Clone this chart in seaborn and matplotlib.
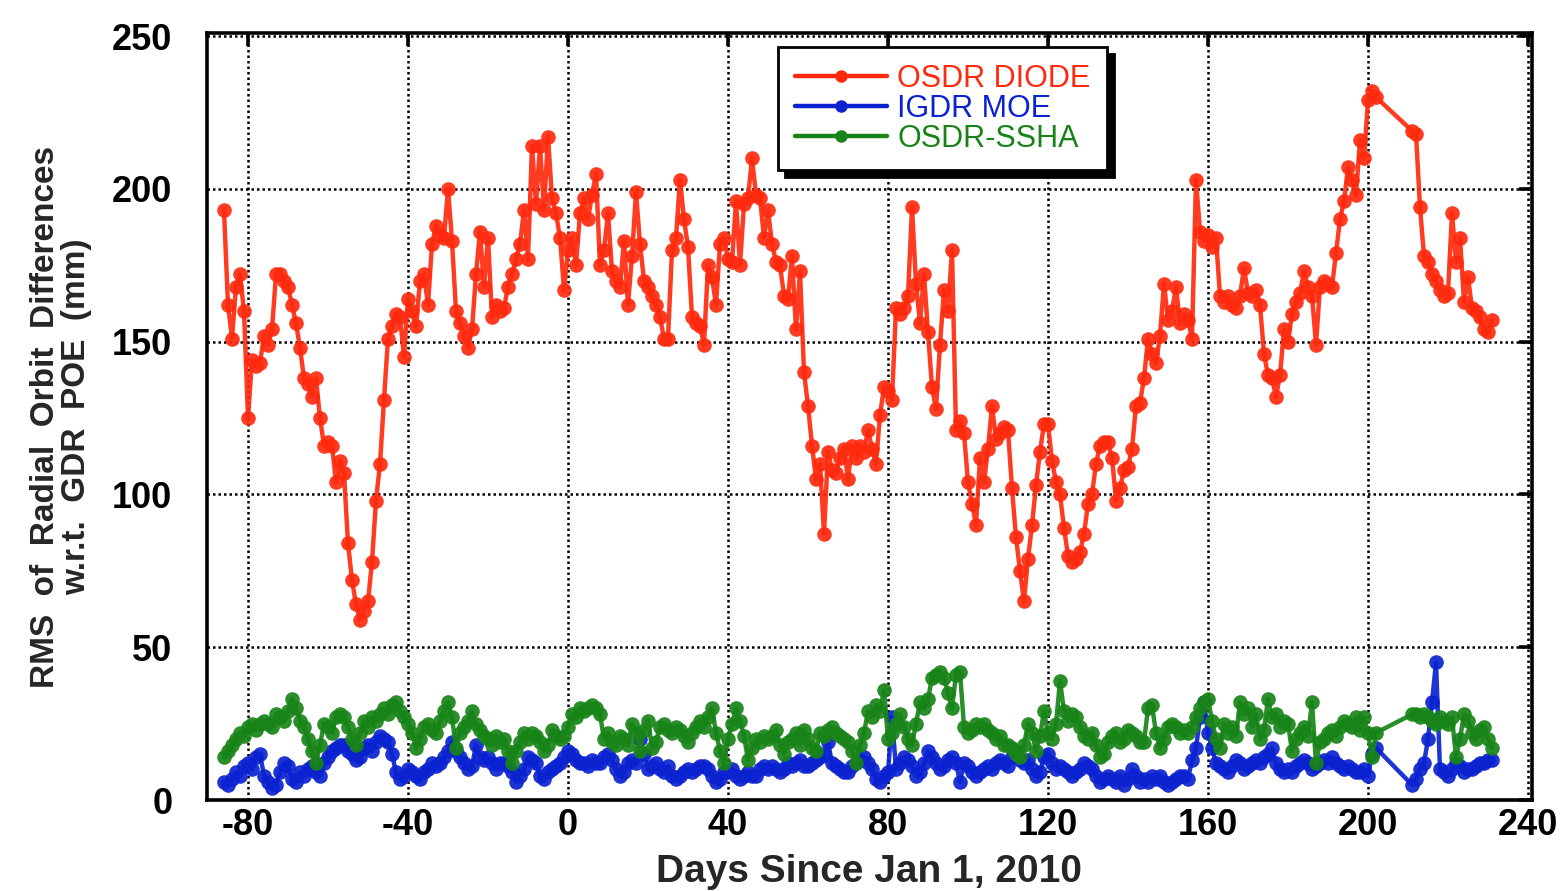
import numpy as np
import pandas as pd
import matplotlib
matplotlib.use("Agg")
import matplotlib.pyplot as plt
import seaborn as sns

# ---------------- data ----------------
days = list(range(-86, 203)) + list(range(211, 232))

osdr_diode = [
    193,162,151,168,172,160,125,144,142,143,
    152,149,154,172,172,170,168,162,156,148,
    138,136,132,138,125,116,117,116,104,111,
    107,84,72,64,59,62,65,78,98,110,
    131,151,155,159,158,145,164,160,155,170,
    172,162,182,188,185,184,200,183,160,156,
    152,148,154,172,186,168,184,158,162,160,
    161,168,172,177,182,193,177,214,195,214,
    193,217,197,192,184,167,180,184,175,192,
    197,190,198,205,175,180,192,173,170,168,
    183,162,178,199,182,170,168,165,162,158,
    151,151,180,184,203,190,181,158,156,155,
    149,175,171,162,182,184,177,176,196,175,
    195,197,210,198,197,184,193,182,176,175,
    165,164,178,154,173,140,129,116,105,110,
    87,114,108,107,112,115,105,116,112,116,
    114,121,115,110,126,135,134,131,161,159,
    161,165,194,169,156,172,153,135,128,149,
    167,160,180,121,124,120,104,97,90,112,
    104,115,129,118,120,122,121,102,86,75,
    65,79,90,103,114,123,123,111,104,100,
    89,80,78,79,81,87,97,100,110,116,
    117,117,112,98,102,108,109,115,129,130,
    138,151,146,143,152,169,157,160,168,156,
    159,157,151,203,186,183,185,181,184,165,
    163,165,162,161,165,174,166,165,167,162,
    146,139,138,132,139,154,150,159,163,166,
    173,168,165,149,168,170,169,168,179,190,
    196,207,203,198,216,210,229,232,230,
    219,218,194,178,176,172,170,167,165,166,192,176,184,163,171,161,160,158,154,153,157,
]

igdr_moe = [
    6,5,7,9,8,11,12,10,14,15,
    8,6,4,5,9,12,11,7,6,9,
    8,10,11,9,8,12,14,16,17,18,
    18,16,15,13,14,17,18,16,19,21,
    20,19,15,9,7,8,10,9,8,7,
    9,10,12,11,12,14,16,19,16,14,
    12,10,11,18,14,13,14,12,10,12,
    12,11,9,6,8,10,14,13,12,8,
    7,9,10,11,12,14,16,15,13,12,
    12,11,13,12,12,14,15,13,10,8,
    9,12,13,12,20,15,10,11,12,10,
    9,11,8,7,8,9,10,9,10,11,
    11,10,8,6,7,9,9,10,8,7,
    8,9,8,8,10,11,10,11,10,9,
    10,12,11,12,13,11,11,12,13,14,
    15,19,12,11,10,9,9,11,12,13,
    14,12,10,7,6,8,9,27,10,12,
    14,13,11,8,9,12,16,14,12,10,
    11,13,14,12,6,12,11,9,8,9,
    10,11,10,12,13,12,11,14,16,13,
    12,13,10,8,9,14,15,12,10,11,
    10,9,8,9,10,12,11,10,8,6,
    7,8,7,6,8,5,7,10,8,6,
    7,6,8,7,8,6,5,6,7,8,
    8,7,13,17,27,32,22,17,12,11,
    10,9,11,13,12,10,11,12,13,12,
    14,15,17,12,10,9,10,9,11,12,
    13,12,10,11,12,13,12,14,12,11,
    10,11,10,9,9,10,8,15,17,
    5,7,10,12,20,32,45,10,9,8,10,12,11,9,10,10,11,12,12,13,13,
]

osdr_ssha = [
    14,16,18,20,22,21,24,25,23,25,
    26,25,24,28,27,26,29,33,30,26,
    24,20,16,12,18,25,24,22,27,28,
    27,24,20,18,22,26,24,27,26,28,
    30,28,31,32,29,27,25,22,17,20,
    24,25,23,22,26,29,32,27,17,22,
    24,26,29,25,23,21,20,18,21,19,
    20,16,12,16,19,22,20,22,21,19,
    16,18,23,21,20,21,24,28,27,30,
    29,30,31,30,28,20,22,19,18,21,
    20,18,25,22,16,23,26,17,19,24,
    25,23,22,24,23,21,19,22,24,26,
    24,27,30,22,16,12,20,25,30,26,
    21,13,17,20,19,21,20,21,23,18,
    15,19,20,22,18,23,20,17,16,22,
    21,23,24,22,21,20,19,16,12,18,
    22,29,27,31,29,36,20,22,25,28,
    24,20,18,25,32,30,33,40,41,42,
    40,35,30,41,42,24,22,23,25,24,
    25,23,22,20,21,18,18,17,15,14,
    18,25,22,16,21,29,22,20,25,39,
    29,26,28,27,24,21,20,22,18,14,
    15,19,21,22,19,20,23,22,21,19,
    19,30,31,22,17,20,24,25,24,22,
    23,22,24,27,30,32,33,26,20,17,
    25,22,24,21,32,28,30,24,28,20,
    23,33,27,28,24,26,25,16,20,22,
    24,21,32,12,19,20,22,23,21,24,
    26,25,24,27,23,27,22,14,22,
    28,28,27,28,27,26,25,27,26,25,27,14,20,28,26,22,20,23,24,20,17,
]

series_names = ["OSDR DIODE", "IGDR MOE", "OSDR-SSHA"]
series_colors = ["#ff2a0e", "#0a22d0", "#188418"]
x_ticks = [-80, -40, 0, 40, 80, 120, 160, 200, 240]
y_ticks = [0, 50, 100, 150, 200, 250]

assert len(days) == len(osdr_diode) == len(igdr_moe) == len(osdr_ssha)

# ---------------- plot ----------------
sns.set_style("white")
plt.rcParams["font.family"] = ["Liberation Sans", "DejaVu Sans"]

fig = plt.figure(figsize=(15.65, 8.91), dpi=100)
ax = fig.add_axes([207/1565, 1 - 800/891, (1532-207)/1565, (800-33)/891])

for name, vals, col in zip(series_names, [osdr_diode, igdr_moe, osdr_ssha], series_colors):
    sns.lineplot(x=days, y=vals, ax=ax, color=col, marker="o", markersize=10.5,
                 markeredgewidth=0, linewidth=3.2, alpha=0.92, label=name,
                 estimator=None)

ax.set_xlim(-90.25, 241)
ax.set_ylim(0, 251)
ax.set_xticks(x_ticks)
ax.set_yticks(y_ticks)
ax.set_xticklabels([str(t) for t in x_ticks], fontsize=26, fontweight="bold")
ax.set_yticklabels([str(t) for t in y_ticks], fontsize=26, fontweight="bold")

ax.grid(True, color="black", linestyle=(0, (1, 1.2)), linewidth=1.8)
ax.set_axisbelow(True)
ax.tick_params(axis="both", direction="in", length=9.5, width=2.6,
               top=True, right=True, colors="black")
ax.tick_params(axis="x", pad=6)
ax.tick_params(axis="y", pad=25)
for s in ax.spines.values():
    s.set_visible(True)
    s.set_color("black")
    s.set_linewidth(2.6)

ax.set_xlabel("Days Since Jan 1, 2010", fontsize=28, fontweight="bold", labelpad=8)
ax.set_ylabel("RMS  of  Radial  Orbit  Differences\nw.r.t.  GDR  POE  (mm)",
              fontsize=24, fontweight="bold", labelpad=14, linespacing=1.0)

leg = ax.legend(loc="upper left", bbox_to_anchor=(0.431, 0.982),
                fontsize=22, frameon=True, fancybox=False,
                shadow={"ox": 5, "oy": -5, "facecolor": "black",
                        "edgecolor": "black", "alpha": 1},
                handlelength=3.0, handletextpad=0.35, borderpad=0.55,
                labelspacing=0.0, borderaxespad=0)
leg.get_frame().set_edgecolor("black")
leg.get_frame().set_linewidth(2.0)
leg.get_frame().set_alpha(1)
for txt, col in zip(leg.get_texts(), series_colors):
    txt.set_color(col)
for h in leg.legend_handles:
    h.set_markersize(9)
    h.set_alpha(1)

fig.savefig("out.png", dpi=100)
